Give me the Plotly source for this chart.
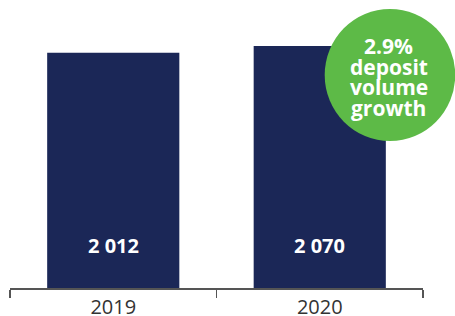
import plotly.graph_objects as go

years = ["2019", "2020"]
deposits = [2012, 2070]
badge_lines = ["2.9%", "deposit", "volume", "growth"]

navy = "#1b2757"
green = "#5dba47"

fig = go.Figure()
fig.add_trace(go.Bar(x=years, y=deposits, marker_color=navy, marker_line_width=0,
                     hoverinfo="skip"))

for i, v in enumerate(deposits):
    fig.add_annotation(x=i, y=0, xref="x", yref="y", yshift=43, showarrow=False,
                       text="<b>" + f"{v:,}".replace(",", " ") + "</b>",
                       font=dict(family="Open Sans", size=20, color="white"))

# growth badge
fig.add_shape(type="circle", xref="paper", yref="paper",
              x0=0.762, x1=1.078, y0=0.51, y1=0.969,
              fillcolor=green, line_width=0, layer="above")
line_shifts = [30.75, 10.25, -10.25, -30.75]
for s, dy in zip(badge_lines, line_shifts):
    fig.add_annotation(xref="paper", yref="paper", x=0.917, y=0.733, yshift=dy,
                       showarrow=False, xanchor="center", yanchor="middle",
                       text="<b>%s</b>" % s,
                       font=dict(family="Open Sans", size=21, color="white"))

fig.update_layout(
    width=455, height=316,
    margin=dict(l=10, r=32, t=0, b=28, autoexpand=False),
    paper_bgcolor="white", plot_bgcolor="white",
    bargap=0.36, showlegend=False,
    xaxis=dict(type="category", range=[-0.5, 1.5], showline=True, linecolor="#555555",
               linewidth=1.5, ticks="outside", tickson="boundaries", ticklen=8,
               tickcolor="#555555", tickwidth=1.5, showgrid=False, automargin=False,
               tickfont=dict(family="Open Sans", size=20, color="#333333")),
    yaxis=dict(range=[0, 2463], visible=False, showgrid=False, zeroline=False),
)

fig.write_html("out.html", config={"displayModeBar": False, "staticPlot": True},
               post_script="document.body.style.margin='0';document.body.style.overflow='hidden';")
